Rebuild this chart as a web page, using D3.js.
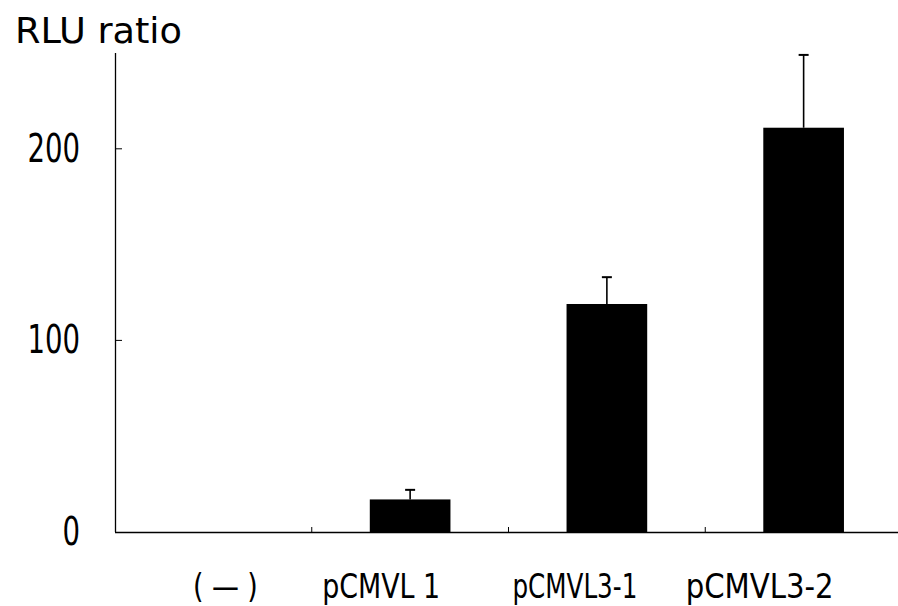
<!DOCTYPE html>
<html>
<head>
<meta charset="utf-8">
<script src="https://cdn.jsdelivr.net/npm/d3@7"></script>
<style>
  body { margin: 0; background: #fff; }
  text { font-family: "DejaVu Sans Condensed", "Liberation Sans Narrow", "Liberation Sans", sans-serif; fill: #000; }
</style>
</head>
<body>
<div id="chart"></div>
<script>
// data
var categories = ['( \u2014 )', 'pCMVL 1', 'pCMVL3-1', 'pCMVL3-2']
var means = [0, 17, 119, 211]
var errTops = [0, 22, 133, 249]
var yTicks = [0, 100, 200]

var width = 898, height = 606
// label nudges, the source used spaced monospace strings
var labelShift = [12, -29, -32, -44]
var labelLen = [65, 118, 125, 148]

var rows = categories.map(function(c, i) {
  return {name: c, mean: means[i], top: errTops[i], shift: labelShift[i], len: labelLen[i]}
})

var svg = d3.select('#chart').append('svg')
    .attr('width', width)
    .attr('height', height)

var x = d3.scaleBand()
    .domain(categories)
    .range([115, 902])
    .paddingInner(0.59)
    .paddingOuter(0.295)

var y = d3.scaleLinear()
    .domain([0, 250])
    .range([532, 53])

function cx(d) { return x(d.name) + x.bandwidth() / 2 }

// axes lines
svg.append('line')
    .attr('x1', 115.5).attr('x2', 115.5)
    .attr('y1', y(250)).attr('y2', y(0))
    .attr('stroke', '#000').attr('stroke-width', 1.3)

svg.append('line')
    .attr('x1', 115).attr('x2', width)
    .attr('y1', y(0) + 0.5).attr('y2', y(0) + 0.5)
    .attr('stroke', '#000').attr('stroke-width', 1.5)

// y ticks point inward
svg.selectAll('.ytick')
    .data(yTicks.filter(function(d) { return d > 0 }))
    .enter().append('line')
    .attr('x1', 115).attr('x2', 122)
    .attr('y1', function(d) { return y(d) }).attr('y2', function(d) { return y(d) })
    .attr('stroke', '#000').attr('stroke-width', 1)

svg.selectAll('.ylab')
    .data(yTicks)
    .enter().append('text')
    .attr('x', 80)
    .attr('y', function(d) { return y(d) + 13 })
    .attr('text-anchor', 'end')
    .attr('textLength', function(d) { return String(d).length * 17.5 })
    .attr('lengthAdjust', 'spacingAndGlyphs')
    .style('font-size', '39px')
    .text(function(d) { return d })

// x ticks between categories
var step = x.step()
svg.selectAll('.xtick')
    .data(categories.slice(1))
    .enter().append('line')
    .attr('x1', function(d) { return x(d) - x.paddingInner() * step / 2 })
    .attr('x2', function(d) { return x(d) - x.paddingInner() * step / 2 })
    .attr('y1', y(0) - 5).attr('y2', y(0))
    .attr('stroke', '#000').attr('stroke-width', 1)

// bars
svg.selectAll('.bar')
    .data(rows)
    .enter().append('rect')
    .attr('x', function(d) { return x(d.name) })
    .attr('width', x.bandwidth())
    .attr('y', function(d) { return y(d.mean) })
    .attr('height', function(d) { return y(0) - y(d.mean) })
    .attr('fill', '#000')

// error bars
var errs = svg.selectAll('.err')
    .data(rows.filter(function(d) { return d.top > d.mean }))
    .enter().append('g')

errs.append('line')
    .attr('x1', cx).attr('x2', cx)
    .attr('y1', function(d) { return y(d.mean) })
    .attr('y2', function(d) { return y(d.top) })
    .attr('stroke', '#000').attr('stroke-width', 1.6)

errs.append('line')
    .attr('x1', function(d) { return cx(d) - 5 })
    .attr('x2', function(d) { return cx(d) + 5 })
    .attr('y1', function(d) { return y(d.top) })
    .attr('y2', function(d) { return y(d.top) })
    .attr('stroke', '#000').attr('stroke-width', 2)

// category labels
svg.selectAll('.xlab')
    .data(rows)
    .enter().append('text')
    .attr('x', function(d) { return cx(d) + d.shift })
    .attr('y', 598)
    .attr('text-anchor', 'middle')
    .attr('textLength', function(d) { return d.len })
    .attr('lengthAdjust', 'spacingAndGlyphs')
    .style('font-size', '34px')
    .text(function(d) { return d.name })

// axis title
svg.append('text')
    .attr('x', 15)
    .attr('y', 43)
    .attr('textLength', 167)
    .attr('lengthAdjust', 'spacingAndGlyphs')
    .style('font-size', '36px')
    .text('RLU ratio')
</script>
</body>
</html>
